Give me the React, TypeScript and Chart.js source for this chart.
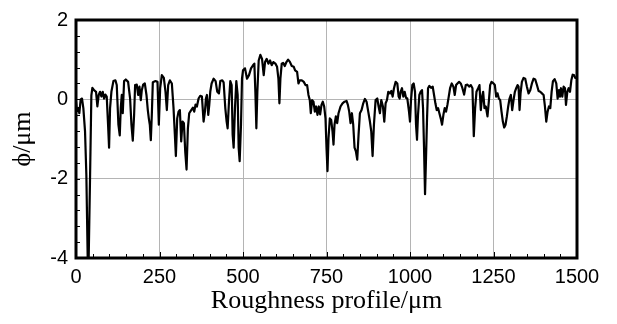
import React, { useEffect, useRef } from "react";
import { Chart, registerables } from "chart.js";

Chart.register(...registerables);

const profileX = [
  0, 3, 7, 10, 14, 18, 22, 27, 31, 35, 38, 42, 46, 49, 54, 60, 64, 68, 72, 76, 80, 84, 88, 92, 96, 99,
  102, 106, 112, 118, 122, 127, 131, 134, 137, 140, 144, 149, 156, 162, 166, 170, 174, 177, 182, 186,
  190, 194, 197, 201, 206, 211, 215, 218, 221, 224, 227, 230, 238, 244, 248, 252, 257, 263, 268, 272,
  276, 281, 287, 292, 296, 299, 303, 307, 311, 315, 319, 323, 327, 331, 335, 339, 345, 350, 354, 358,
  362, 367, 372, 377, 382, 386, 389, 392, 396, 399, 402, 406, 412, 418, 423, 428, 432, 438, 442, 447,
  451, 454, 458, 462, 466, 469, 472, 476, 480, 484, 487, 490, 494, 497, 500, 506, 512, 518, 524, 530,
  534, 537, 540, 543, 547, 552, 557, 562, 566, 571, 576, 581, 586, 591, 597, 602, 606, 609, 612, 616,
  620, 625, 630, 635, 640, 646, 652, 656, 662, 666, 670, 676, 682, 687, 692, 696, 700, 703, 707, 711,
  715, 719, 723, 727, 731, 735, 739, 743, 747, 750, 753, 756, 760, 764, 768, 771, 774, 778, 782, 786,
  792, 798, 804, 810, 814, 818, 822, 826, 830, 834, 838, 842, 846, 850, 855, 860, 865, 870, 875, 880,
  884, 888, 892, 897, 902, 906, 910, 914, 919, 923, 927, 931, 935, 940, 944, 948, 952, 957, 962, 966,
  969, 972, 976, 980, 984, 988, 992, 997, 1000, 1003, 1007, 1011, 1015, 1018, 1021, 1024, 1028, 1032,
  1036, 1039, 1042, 1045, 1048, 1051, 1054, 1058, 1063, 1068, 1072, 1076, 1080, 1084, 1088, 1092, 1096,
  1100, 1104, 1108, 1112, 1116, 1120, 1125, 1130, 1134, 1138, 1142, 1147, 1152, 1157, 1162, 1167, 1172,
  1177, 1182, 1187, 1191, 1195, 1199, 1204, 1208, 1212, 1216, 1219, 1223, 1227, 1232, 1236, 1240, 1244,
  1250, 1254, 1258, 1262, 1266, 1270, 1274, 1278, 1282, 1286, 1290, 1294, 1298, 1302, 1306, 1310, 1314,
  1318, 1322, 1325, 1328, 1331, 1335, 1340, 1345, 1350, 1355, 1360, 1365, 1370, 1375, 1380, 1385, 1390,
  1395, 1400, 1404, 1408, 1412, 1416, 1420, 1424, 1428, 1433, 1438, 1442, 1446, 1449, 1452, 1456, 1460,
  1464, 1467, 1471, 1475, 1479, 1483, 1487, 1491, 1495, 1500,
];

const profileY = [
  -0.06, -0.3, -0.22, -0.35, 0.0, 0.02, -0.22, -0.8, -1.9, -4.0, -4.0, -2.0, 0.1, 0.29, 0.23, 0.19, -0.18,
  0.11, 0.19, 0.07, 0.19, 0.02, 0.12, 0.07, -0.64, -1.22,
  -0.22, 0.19, 0.46, 0.48, 0.36, -0.64, -0.91, -0.22, 0.11, -0.35, 0.46, 0.5, 0.44, 0.02, -0.64, -1.04,
  -0.39, 0.36, 0.37, 0.11,
  0.32, -0.02, 0.23, 0.37, 0.4, 0.11, -0.27, -0.48, -0.64, -1.03, -0.39, 0.43, 0.46, 0.44, -0.64, 0.28,
  0.61, 0.54, 0.19, -0.27,
  0.36, 0.48, 0.4, -0.22, -0.89, -1.43, -0.48, -0.31, -0.27, -1.06, -0.56, -0.6, -1.31, -1.77, -0.73,
  -0.35, -0.27, -0.21, -0.31, -0.13,
  -0.18, 0.02, 0.09, 0.07, -0.56, -0.31, 0.02, 0.11, -0.39, -0.14, 0.19, 0.4, 0.52, 0.46, 0.19, 0.15,
  0.46, 0.48, 0.43, -0.22,
  -0.56, -0.73, -0.06, 0.46, 0.36, -0.89, -1.22, -0.22, 0.46, 0.11, -1.22, -1.56, -0.64, 0.52, 0.73,
  0.78, 0.52, 0.61, 0.78, 0.86,
  0.9, 0.19, -0.73, 0.19, 0.98, 1.12, 1.02, 0.61, 0.94, 1.02, 0.9, 0.98, 0.86, 0.94, 0.9, 0.82, 0.52,
  -0.1, 0.52, 0.9,
  0.92, 0.84, 0.94, 1.0, 0.95, 0.84, 0.82, 0.73, 0.69, 0.4, 0.48, 0.48, 0.44, 0.36, 0.36, 0.11, -0.02,
  -0.35, -0.02, -0.06,
  -0.31, -0.18, -0.39, -0.18, -0.38, -0.14, -0.06, -0.18, -0.48, -1.22, -1.81, -0.98, -0.48, -0.52,
  -0.81, -1.14, -0.64, -0.43, -0.6, -0.35,
  -0.18, -0.1, -0.06, -0.04, -0.14, -0.31, -0.6, -0.35, -0.64, -1.22, -1.31, -1.52, -0.89, -0.35, -0.27,
  -0.1, 0.01, -0.06, -0.31, -0.56,
  -0.81, -1.43, -0.64, -0.02, 0.02, -0.18, -0.35, -0.02, -0.18, -0.56, -0.1, -0.02, 0.19, 0.15, 0.21,
  0.07, 0.28, 0.44, 0.4, 0.07,
  0.02, 0.19, 0.28, 0.07, 0.19, 0.04, 0.02, -0.31, -0.56, -0.02, 0.36, 0.4, 0.19, -0.64, -1.02, -0.39,
  0.11, 0.19,
  0.23, -0.22, -1.22, -2.39, -1.47, -0.48, 0.28, 0.34, 0.29, 0.32, 0.11, -0.1, -0.27, -0.22, -0.35,
  -0.48, -0.64,
  -0.39, -0.22, -0.31, -0.14, 0.07, 0.28, 0.4, 0.32, 0.11, 0.36, 0.4, 0.44, 0.4, 0.28, 0.12, 0.36, 0.37,
  0.32, 0.36, 0.28, -0.93, -0.22, 0.19, 0.28, 0.36, -0.27, 0.07, 0.19, -0.22, -0.18, -0.43, -0.06, 0.36,
  0.44,
  0.4, 0.36, 0.07, 0.15, 0.02, -0.02, -0.31, -0.56, -0.71, -0.64, -0.43, -0.18, 0.02, 0.11, -0.27, -0.02,
  0.19,
  0.28, 0.36, 0.32, -0.27, 0.15, 0.44, 0.54, 0.52, 0.32, 0.15, 0.23, 0.4, 0.52, 0.5, 0.36, 0.21, 0.19,
  0.15, 0.11, -0.18, -0.56, -0.31, -0.18, -0.22, 0.19, 0.46, 0.51, 0.4, 0.02, 0.23, 0.07, 0.28, 0.07,
  0.32,
  0.28, -0.14, 0.19, 0.28, 0.19, 0.48, 0.62, 0.61, 0.54, 0.55,
];

const xTickValues = [0, 250, 500, 750, 1000, 1250, 1500];
const yTickValues = [-4, -2, 0, 2];

const X_MIN = 0;
const X_MAX = 1500;
const Y_MIN = -4;
const Y_MAX = 2;

const xTitle = "Roughness profile/μm";
const yTitle = "ϕ/μm";

const framePlugin = {
  id: "frame",
  afterDraw(chart: any) {
    const { ctx, chartArea, scales } = chart;
    const xs = scales.x;
    const ys = scales.y;
    ctx.save();
    ctx.strokeStyle = "#000";
    ctx.lineWidth = 1;
    ctx.beginPath();
    for (let v = X_MIN; v <= X_MAX; v += 50) {
      const px = Math.round(xs.getPixelForValue(v)) + 0.5;
      const len = v % 250 === 0 ? 6 : 4;
      ctx.moveTo(px, chartArea.bottom);
      ctx.lineTo(px, chartArea.bottom - len);
    }
    for (let i = 0; i <= 15; i++) {
      const v = Y_MIN + i * 0.4;
      const py = Math.round(ys.getPixelForValue(v)) + 0.5;
      ctx.moveTo(chartArea.left, py);
      ctx.lineTo(chartArea.left + 4, py);
    }
    ctx.stroke();
    ctx.lineWidth = 3;
    ctx.strokeRect(chartArea.left, chartArea.top, chartArea.right - chartArea.left, chartArea.bottom - chartArea.top);
    ctx.restore();
  },
};

export default function App() {
  const ref = useRef<HTMLCanvasElement | null>(null);

  useEffect(() => {
    if (!ref.current) return;
    const data = profileX.map((x, i) => ({ x, y: profileY[i] }));
    const chart = new Chart(ref.current, {
      type: "line",
      data: {
        datasets: [
          {
            data,
            borderColor: "#000",
            borderWidth: 2.2,
            pointRadius: 0,
            tension: 0,
            fill: false,
            borderJoinStyle: "round",
          },
        ],
      },
      options: {
        responsive: false,
        animation: false,
        parsing: false,
        layout: { padding: { top: 17, right: 40, left: 0, bottom: 0 } },
        plugins: {
          legend: { display: false },
          tooltip: { enabled: false },
        },
        scales: {
          x: {
            type: "linear",
            min: X_MIN,
            max: X_MAX,
            afterBuildTicks: (scale: any) => {
              scale.ticks = xTickValues.map((v) => ({ value: v }));
            },
            afterFit: (scale: any) => {
              scale.height = 66;
            },
            ticks: {
              color: "#000",
              padding: 7,
              maxRotation: 0,
              autoSkip: false,
              callback: (v: any) => String(v),
              font: { family: "'Liberation Sans', Arial, sans-serif", size: 20 },
            },
            grid: { color: "#b4b4b4", lineWidth: 1, drawTicks: false },
            border: { display: false },
            title: {
              display: true,
              text: xTitle,
              color: "#000",
              padding: { top: 0, bottom: 7 },
              font: { family: "'Liberation Serif', 'Times New Roman', serif", size: 26 },
            },
          },
          y: {
            type: "linear",
            min: Y_MIN,
            max: Y_MAX,
            afterBuildTicks: (scale: any) => {
              scale.ticks = yTickValues.map((v) => ({ value: v }));
            },
            afterFit: (scale: any) => {
              scale.width = 76;
            },
            ticks: {
              color: "#000",
              padding: 8,
              autoSkip: false,
              callback: (v: any) => String(v),
              font: { family: "'Liberation Sans', Arial, sans-serif", size: 20 },
            },
            grid: { color: "#b4b4b4", lineWidth: 1, drawTicks: false },
            border: { display: false },
            title: {
              display: true,
              text: yTitle,
              color: "#000",
              padding: { top: 8, bottom: 0 },
              font: { family: "'Liberation Serif', 'Times New Roman', serif", size: 26 },
            },
          },
        },
      },
      plugins: [framePlugin],
    });
    return () => chart.destroy();
  }, []);

  return (
    <div style={{ position: "absolute", left: 0, top: 0, width: 617, height: 324, background: "#fff" }}>
      <canvas ref={ref} width={617} height={324} style={{ display: "block" }} />
    </div>
  );
}
